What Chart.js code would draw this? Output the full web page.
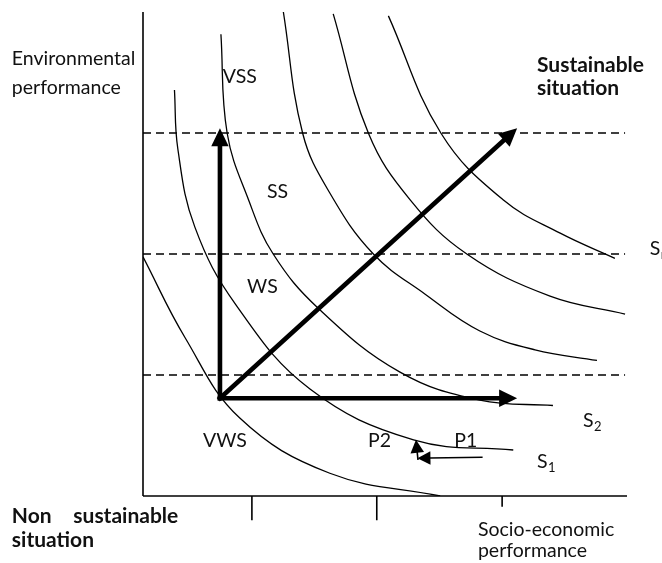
<!DOCTYPE html>
<html>
<head>
<meta charset="utf-8">
<script src="https://cdn.jsdelivr.net/npm/chart.js@4.4.1/dist/chart.umd.min.js"></script>
<style>
  html, body { margin: 0; padding: 0; background: #fff; }
</style>
</head>
<body>
<canvas id="chart" width="662" height="563"></canvas>
<script>
// curve points, both axes run 0..100
const isoS0 = [[0, 49.4], [8.7, 32.7], [20.0, 16.1], [38.6, 4.7], [61.4, 0]];
const isoS1 = [[6.5, 83.9], [7.2, 71.7], [10.7, 55.6], [19.2, 39.5], [34.5, 22.1], [55.9, 11.6], [76.5, 9.5]];
const isoS2 = [[16.1, 95.4], [17.4, 74.9], [21.8, 61.2], [26.9, 50.0], [36.2, 38.8], [53.1, 25.6], [69.6, 19.8], [84.7, 18.7]];
const isoS3 = [[29.0, 100], [33.0, 74.9], [38.6, 62.6], [47.6, 50.0], [58.3, 41.7], [69.6, 34.1], [81.0, 30.2], [93.8, 28.0]];
const isoS4 = [[39.3, 99.6], [46.6, 74.9], [55.2, 61.2], [66.9, 50.0], [84.1, 41.3], [99.6, 37.6]];
const isoS5 = [[50.7, 99.2], [61.6, 74.9], [74.4, 61.2], [86.2, 54.3], [97.5, 49.1]];

const levels = [25, 50, 75];          // dashed thresholds
const xTicks = [22.5, 48.3, 74.2];
const xTickDepth = [-5, -5, -2.2];

const arrowOrigin = [15.9, 20.2];
const arrowTips = [[15.9, 76.0], [77.3, 20.2], [77.3, 76.0]];
const moveP1 = [[70.0, 8.0], [56.7, 7.8]];
const moveP2 = [[56.8, 7.6], [56.4, 11.6]];

const zoneLabels = [
  { text: "VSS", x: 16.5, y: 85.3 },
  { text: "SS", x: 25.6, y: 61.6 },
  { text: "WS", x: 21.5, y: 41.9 },
  { text: "VWS", x: 12.4, y: 10.1 },
  { text: "P2", x: 46.5, y: 10.1 },
  { text: "P1", x: 64.3, y: 10.1 },
  { text: "S", sub: "2", x: 90.9, y: 14.3 },
  { text: "S", sub: "1", x: 81.4, y: 5.8 },
  { text: "S", sub: "n", x: 104.7, y: 49.8 },
  { text: "Environmental", x: -27.1, y: 89.0 },
  { text: "performance", x: -27.1, y: 83.1 },
  { text: "Socio-economic", x: 69.2, y: -8.3 },
  { text: "performance", x: 69.2, y: -12.6 }
];
const boldLabels = [
  { text: "Sustainable", x: 81.4, y: 87.6 },
  { text: "situation", x: 81.4, y: 82.9 },
  { text: "Non", x: -27.1, y: -5.6 },
  { text: "sustainable", x: -14.4, y: -5.6 },
  { text: "situation", x: -27.1, y: -10.5 }
];

const pts = arr => arr.map(([x, y]) => ({ x, y }));

function curve(arr) {
  return {
    data: pts(arr), showLine: true, borderColor: "#000", borderWidth: 1.3,
    pointRadius: 0, tension: 0.4
  };
}

const datasets = [];
[isoS0, isoS1, isoS2, isoS3, isoS4, isoS5].forEach(c => datasets.push(curve(c)));

levels.forEach(v => datasets.push({
  data: pts([[0, v], [99.6, v]]), showLine: true, borderColor: "#000",
  borderWidth: 1.4, borderDash: [8, 5], pointRadius: 0
}));

// axes
datasets.push({ data: pts([[0, 0], [0, 100]]), showLine: true, borderColor: "#000", borderWidth: 1.6, pointRadius: 0, clip: false });
datasets.push({ data: pts([[0, 0], [100, 0]]), showLine: true, borderColor: "#000", borderWidth: 1.6, pointRadius: 0, clip: false });
xTicks.forEach((t, i) => datasets.push({
  data: pts([[t, 0], [t, xTickDepth[i]]]), showLine: true, borderColor: "#000",
  borderWidth: 1.6, pointRadius: 0, clip: false
}));

arrowTips.forEach(tip => datasets.push({
  data: pts([arrowOrigin, tip]), showLine: false, pointRadius: 0,
  arrowHead: { len: 18, half: 8.7, width: 4.6 }
}));
[moveP1, moveP2].forEach(m => datasets.push({
  data: pts(m), showLine: false, pointRadius: 0,
  arrowHead: { len: 13, half: 6.8, width: 1.6 }
}));

const arrowPlugin = {
  id: "arrows",
  afterDatasetsDraw(chart) {
    const ctx = chart.ctx;
    chart.data.datasets.forEach((ds, i) => {
      if (!ds.arrowHead) return;
      const el = chart.getDatasetMeta(i).data;
      const a = el[0], b = el[el.length - 1];
      const dx = b.x - a.x, dy = b.y - a.y, L = Math.hypot(dx, dy);
      const ux = dx / L, uy = dy / L;
      const h = ds.arrowHead;
      const bx = b.x - ux * h.len, by = b.y - uy * h.len;
      ctx.save();
      ctx.strokeStyle = "#000";
      ctx.fillStyle = "#000";
      ctx.lineWidth = h.width;
      ctx.lineCap = "square";
      ctx.beginPath();
      ctx.moveTo(a.x, a.y);
      ctx.lineTo(bx, by);
      ctx.stroke();
      ctx.beginPath();
      ctx.moveTo(b.x, b.y);
      ctx.lineTo(bx - uy * h.half, by + ux * h.half);
      ctx.lineTo(bx + uy * h.half, by - ux * h.half);
      ctx.closePath();
      ctx.fill();
      ctx.restore();
    });
  }
};

const textPlugin = {
  id: "texts",
  afterDraw(chart) {
    const ctx = chart.ctx;
    const sx = chart.scales.x, sy = chart.scales.y;
    ctx.save();
    ctx.fillStyle = "#111";
    ctx.textBaseline = "alphabetic";
    ctx.textAlign = "left";
    const put = (list, font) => list.forEach(l => {
      const px = sx.getPixelForValue(l.x), py = sy.getPixelForValue(l.y);
      ctx.font = font;
      ctx.fillText(l.text, px, py);
      if (l.sub) {
        const w = ctx.measureText(l.text).width;
        ctx.font = "13px Lato";
        ctx.fillText(l.sub, px + w + 0.5, py + 4);
      }
    });
    put(zoneLabels, "19.5px Lato");
    put(boldLabels, "bold 21px Lato");
    ctx.restore();
  }
};

new Chart(document.getElementById("chart"), {
  type: "scatter",
  data: { datasets },
  options: {
    responsive: false,
    animation: false,
    layout: { padding: { left: 143, top: 12, right: 35, bottom: 67 } },
    scales: {
      x: { type: "linear", min: 0, max: 100, display: false },
      y: { type: "linear", min: 0, max: 100, display: false }
    },
    plugins: { legend: { display: false }, tooltip: { enabled: false } },
    events: []
  },
  plugins: [arrowPlugin, textPlugin]
});
</script>
</body>
</html>
